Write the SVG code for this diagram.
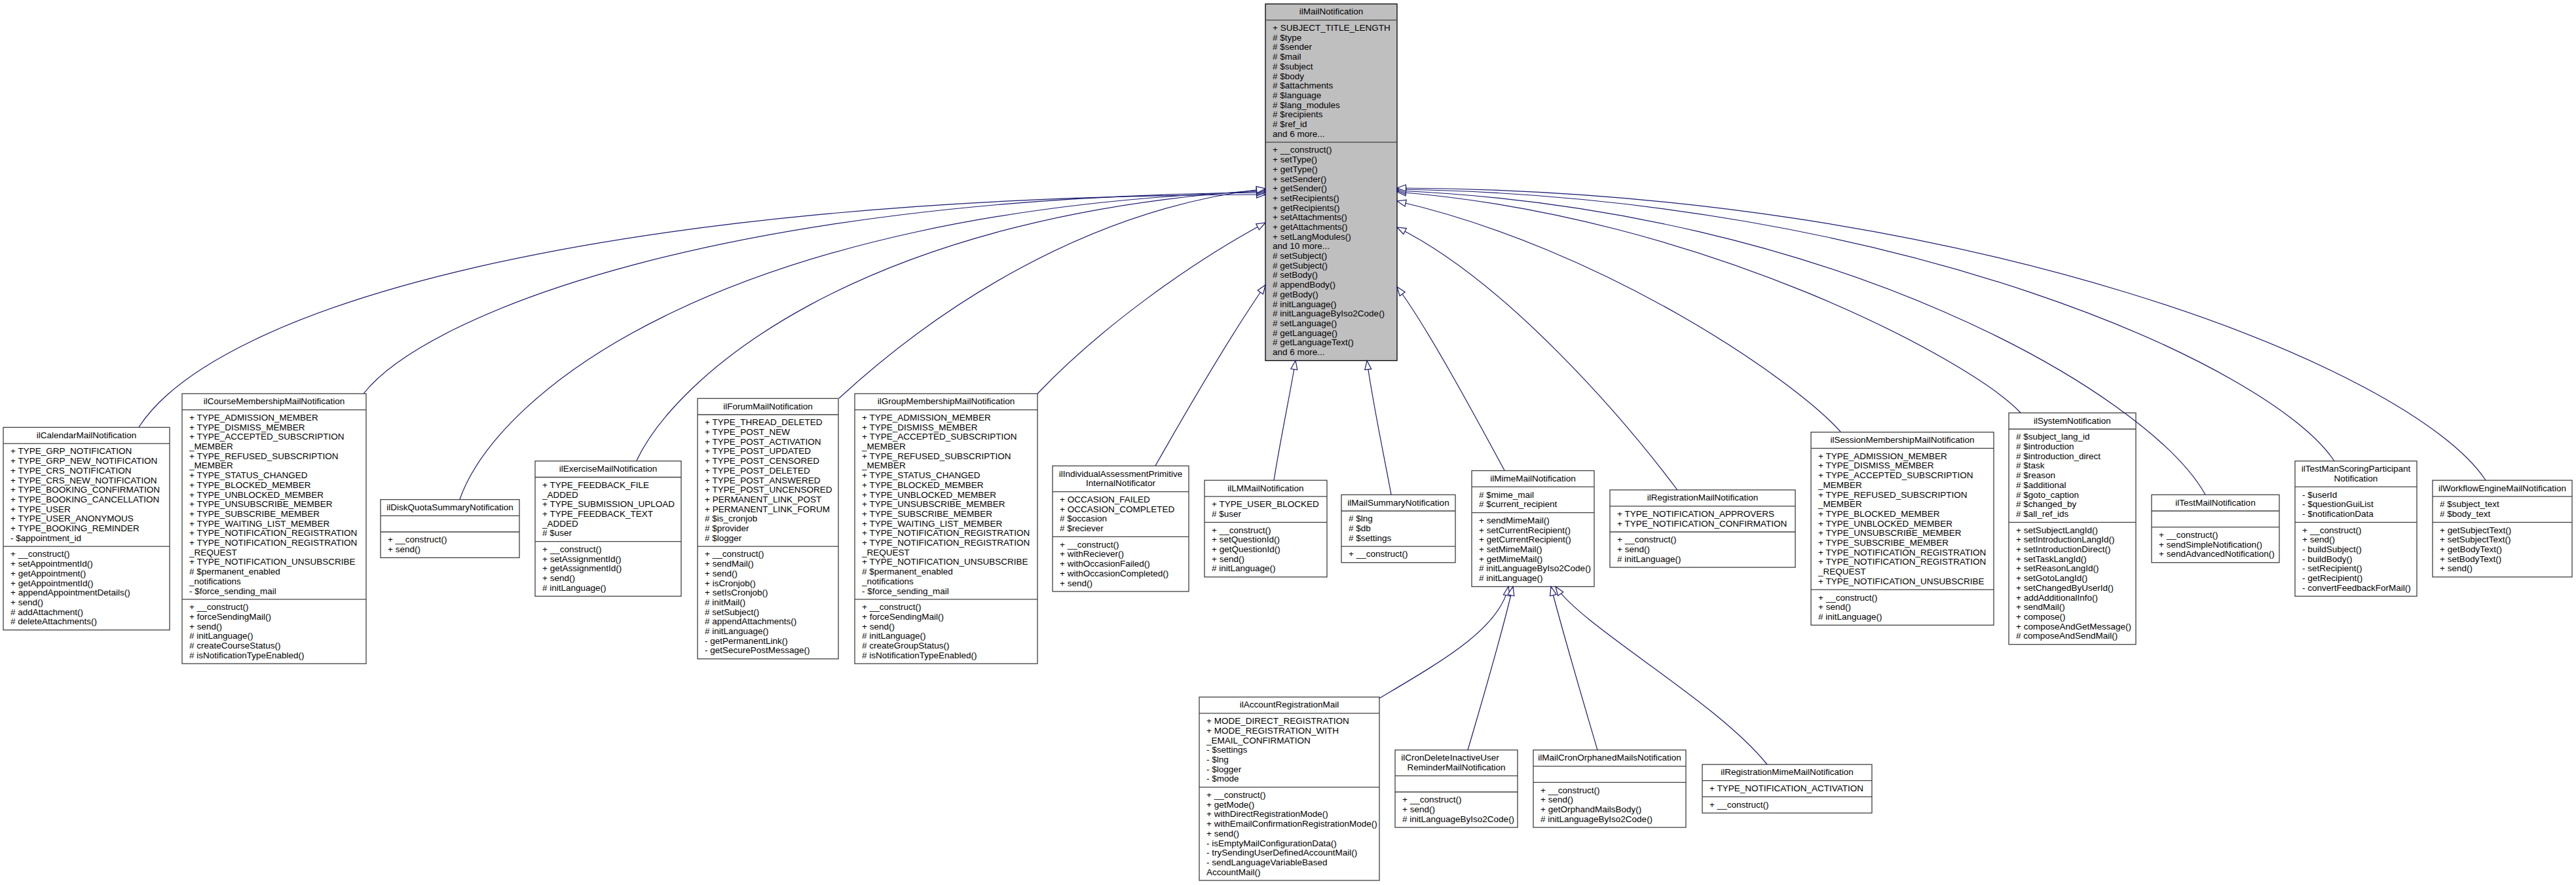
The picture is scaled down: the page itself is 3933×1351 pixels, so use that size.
<svg xmlns="http://www.w3.org/2000/svg" width="3933" height="1351" viewBox="0 0 3933 1351">
<style>
.bg{fill:#fff}
.box{fill:#fff;stroke:#404040;stroke-width:1.3}
.base{fill:#bfbfbf;stroke:#000;stroke-width:1.3}
.sep{stroke:#404040;stroke-width:1.3}
.t{font-family:"Liberation Sans",Arial,Helvetica,sans-serif;font-size:13.5px;fill:#000}
.c{text-anchor:middle}
.e{fill:none;stroke:#191970;stroke-width:1.2;marker-end:url(#arr)}
</style>
<defs>
<marker id="arr" markerUnits="userSpaceOnUse" markerWidth="16" markerHeight="14" viewBox="0 0 16 14" refX="14.5" refY="7" orient="auto">
<path d="M1,2 L14.5,7 L1,12 Z" fill="#fff" stroke="#191970" stroke-width="1.2"/>
</marker>
</defs>
<rect class="bg" x="0" y="0" width="3933" height="1351"/>

<g id="ilMailNotification">
<rect class="base" x="1932" y="6" width="201" height="544.5"/>
<line class="sep" x1="1932" y1="30.7" x2="2133" y2="30.7"/>
<line class="sep" x1="1932" y1="217.1" x2="2133" y2="217.1"/>
<text class="t c" x="2032.5" y="22.3">ilMailNotification</text>
<text class="t" x="1943" y="47"><tspan x="1943">+ SUBJECT_TITLE_LENGTH</tspan><tspan x="1943" dy="14.7"># $type</tspan><tspan x="1943" dy="14.7"># $sender</tspan><tspan x="1943" dy="14.7"># $mail</tspan><tspan x="1943" dy="14.7"># $subject</tspan><tspan x="1943" dy="14.7"># $body</tspan><tspan x="1943" dy="14.7"># $attachments</tspan><tspan x="1943" dy="14.7"># $language</tspan><tspan x="1943" dy="14.7"># $lang_modules</tspan><tspan x="1943" dy="14.7"># $recipients</tspan><tspan x="1943" dy="14.7"># $ref_id</tspan><tspan x="1943" dy="14.7">and 6 more...</tspan></text>
<text class="t" x="1943" y="233.4"><tspan x="1943">+ __construct()</tspan><tspan x="1943" dy="14.7">+ setType()</tspan><tspan x="1943" dy="14.7">+ getType()</tspan><tspan x="1943" dy="14.7">+ setSender()</tspan><tspan x="1943" dy="14.7">+ getSender()</tspan><tspan x="1943" dy="14.7">+ setRecipients()</tspan><tspan x="1943" dy="14.7">+ getRecipients()</tspan><tspan x="1943" dy="14.7">+ setAttachments()</tspan><tspan x="1943" dy="14.7">+ getAttachments()</tspan><tspan x="1943" dy="14.7">+ setLangModules()</tspan><tspan x="1943" dy="14.7">and 10 more...</tspan><tspan x="1943" dy="14.7"># setSubject()</tspan><tspan x="1943" dy="14.7"># getSubject()</tspan><tspan x="1943" dy="14.7"># setBody()</tspan><tspan x="1943" dy="14.7"># appendBody()</tspan><tspan x="1943" dy="14.7"># getBody()</tspan><tspan x="1943" dy="14.7"># initLanguage()</tspan><tspan x="1943" dy="14.7"># initLanguageByIso2Code()</tspan><tspan x="1943" dy="14.7"># setLanguage()</tspan><tspan x="1943" dy="14.7"># getLanguage()</tspan><tspan x="1943" dy="14.7"># getLanguageText()</tspan><tspan x="1943" dy="14.7">and 6 more...</tspan></text>
</g>

<g id="ilCalendarMailNotification">
<rect class="box" x="5" y="652.4" width="254" height="309.3"/>
<line class="sep" x1="5" y1="677.1" x2="259" y2="677.1"/>
<line class="sep" x1="5" y1="834.1" x2="259" y2="834.1"/>
<text class="t c" x="132" y="668.7">ilCalendarMailNotification</text>
<text class="t" x="16" y="693.4"><tspan x="16">+ TYPE_GRP_NOTIFICATION</tspan><tspan x="16" dy="14.7">+ TYPE_GRP_NEW_NOTIFICATION</tspan><tspan x="16" dy="14.7">+ TYPE_CRS_NOTIFICATION</tspan><tspan x="16" dy="14.7">+ TYPE_CRS_NEW_NOTIFICATION</tspan><tspan x="16" dy="14.7">+ TYPE_BOOKING_CONFIRMATION</tspan><tspan x="16" dy="14.7">+ TYPE_BOOKING_CANCELLATION</tspan><tspan x="16" dy="14.7">+ TYPE_USER</tspan><tspan x="16" dy="14.7">+ TYPE_USER_ANONYMOUS</tspan><tspan x="16" dy="14.7">+ TYPE_BOOKING_REMINDER</tspan><tspan x="16" dy="14.7">- $appointment_id</tspan></text>
<text class="t" x="16" y="850.4"><tspan x="16">+ __construct()</tspan><tspan x="16" dy="14.7">+ setAppointmentId()</tspan><tspan x="16" dy="14.7">+ getAppointment()</tspan><tspan x="16" dy="14.7">+ getAppointmentId()</tspan><tspan x="16" dy="14.7">+ appendAppointmentDetails()</tspan><tspan x="16" dy="14.7">+ send()</tspan><tspan x="16" dy="14.7"># addAttachment()</tspan><tspan x="16" dy="14.7"># deleteAttachments()</tspan></text>
</g>

<g id="ilCourseMembershipMailNotification">
<rect class="box" x="278" y="600.9" width="281" height="412.2"/>
<line class="sep" x1="278" y1="625.6" x2="559" y2="625.6"/>
<line class="sep" x1="278" y1="914.9" x2="559" y2="914.9"/>
<text class="t c" x="418.5" y="617.2">ilCourseMembershipMailNotification</text>
<text class="t" x="289" y="641.9"><tspan x="289">+ TYPE_ADMISSION_MEMBER</tspan><tspan x="289" dy="14.7">+ TYPE_DISMISS_MEMBER</tspan><tspan x="289" dy="14.7">+ TYPE_ACCEPTED_SUBSCRIPTION</tspan><tspan x="289" dy="14.7">_MEMBER</tspan><tspan x="289" dy="14.7">+ TYPE_REFUSED_SUBSCRIPTION</tspan><tspan x="289" dy="14.7">_MEMBER</tspan><tspan x="289" dy="14.7">+ TYPE_STATUS_CHANGED</tspan><tspan x="289" dy="14.7">+ TYPE_BLOCKED_MEMBER</tspan><tspan x="289" dy="14.7">+ TYPE_UNBLOCKED_MEMBER</tspan><tspan x="289" dy="14.7">+ TYPE_UNSUBSCRIBE_MEMBER</tspan><tspan x="289" dy="14.7">+ TYPE_SUBSCRIBE_MEMBER</tspan><tspan x="289" dy="14.7">+ TYPE_WAITING_LIST_MEMBER</tspan><tspan x="289" dy="14.7">+ TYPE_NOTIFICATION_REGISTRATION</tspan><tspan x="289" dy="14.7">+ TYPE_NOTIFICATION_REGISTRATION</tspan><tspan x="289" dy="14.7">_REQUEST</tspan><tspan x="289" dy="14.7">+ TYPE_NOTIFICATION_UNSUBSCRIBE</tspan><tspan x="289" dy="14.7"># $permanent_enabled</tspan><tspan x="289" dy="14.7">_notifications</tspan><tspan x="289" dy="14.7">- $force_sending_mail</tspan></text>
<text class="t" x="289" y="931.2"><tspan x="289">+ __construct()</tspan><tspan x="289" dy="14.7">+ forceSendingMail()</tspan><tspan x="289" dy="14.7">+ send()</tspan><tspan x="289" dy="14.7"># initLanguage()</tspan><tspan x="289" dy="14.7"># createCourseStatus()</tspan><tspan x="289" dy="14.7"># isNotificationTypeEnabled()</tspan></text>
</g>

<g id="ilDiskQuotaSummaryNotification">
<rect class="box" x="581" y="762.6" width="212" height="88.8"/>
<line class="sep" x1="581" y1="787.3" x2="793" y2="787.3"/>
<line class="sep" x1="581" y1="812" x2="793" y2="812"/>
<text class="t c" x="687" y="778.9">ilDiskQuotaSummaryNotification</text>
<text class="t" x="592" y="828.3"><tspan x="592">+ __construct()</tspan><tspan x="592" dy="14.7">+ send()</tspan></text>
</g>

<g id="ilExerciseMailNotification">
<rect class="box" x="817" y="703.8" width="223" height="206.4"/>
<line class="sep" x1="817" y1="728.5" x2="1040" y2="728.5"/>
<line class="sep" x1="817" y1="826.7" x2="1040" y2="826.7"/>
<text class="t c" x="928.5" y="720.1">ilExerciseMailNotification</text>
<text class="t" x="828" y="744.8"><tspan x="828">+ TYPE_FEEDBACK_FILE</tspan><tspan x="828" dy="14.7">_ADDED</tspan><tspan x="828" dy="14.7">+ TYPE_SUBMISSION_UPLOAD</tspan><tspan x="828" dy="14.7">+ TYPE_FEEDBACK_TEXT</tspan><tspan x="828" dy="14.7">_ADDED</tspan><tspan x="828" dy="14.7"># $user</tspan></text>
<text class="t" x="828" y="843"><tspan x="828">+ __construct()</tspan><tspan x="828" dy="14.7">+ setAssignmentId()</tspan><tspan x="828" dy="14.7">+ getAssignmentId()</tspan><tspan x="828" dy="14.7">+ send()</tspan><tspan x="828" dy="14.7"># initLanguage()</tspan></text>
</g>

<g id="ilForumMailNotification">
<rect class="box" x="1065" y="608.3" width="215" height="397.5"/>
<line class="sep" x1="1065" y1="633" x2="1280" y2="633"/>
<line class="sep" x1="1065" y1="834.1" x2="1280" y2="834.1"/>
<text class="t c" x="1172.5" y="624.6">ilForumMailNotification</text>
<text class="t" x="1076" y="649.3"><tspan x="1076">+ TYPE_THREAD_DELETED</tspan><tspan x="1076" dy="14.7">+ TYPE_POST_NEW</tspan><tspan x="1076" dy="14.7">+ TYPE_POST_ACTIVATION</tspan><tspan x="1076" dy="14.7">+ TYPE_POST_UPDATED</tspan><tspan x="1076" dy="14.7">+ TYPE_POST_CENSORED</tspan><tspan x="1076" dy="14.7">+ TYPE_POST_DELETED</tspan><tspan x="1076" dy="14.7">+ TYPE_POST_ANSWERED</tspan><tspan x="1076" dy="14.7">+ TYPE_POST_UNCENSORED</tspan><tspan x="1076" dy="14.7">+ PERMANENT_LINK_POST</tspan><tspan x="1076" dy="14.7">+ PERMANENT_LINK_FORUM</tspan><tspan x="1076" dy="14.7"># $is_cronjob</tspan><tspan x="1076" dy="14.7"># $provider</tspan><tspan x="1076" dy="14.7"># $logger</tspan></text>
<text class="t" x="1076" y="850.4"><tspan x="1076">+ __construct()</tspan><tspan x="1076" dy="14.7">+ sendMail()</tspan><tspan x="1076" dy="14.7">+ send()</tspan><tspan x="1076" dy="14.7">+ isCronjob()</tspan><tspan x="1076" dy="14.7">+ setIsCronjob()</tspan><tspan x="1076" dy="14.7"># initMail()</tspan><tspan x="1076" dy="14.7"># setSubject()</tspan><tspan x="1076" dy="14.7"># appendAttachments()</tspan><tspan x="1076" dy="14.7"># initLanguage()</tspan><tspan x="1076" dy="14.7">- getPermanentLink()</tspan><tspan x="1076" dy="14.7">- getSecurePostMessage()</tspan></text>
</g>

<g id="ilGroupMembershipMailNotification">
<rect class="box" x="1305" y="600.9" width="279" height="412.2"/>
<line class="sep" x1="1305" y1="625.6" x2="1584" y2="625.6"/>
<line class="sep" x1="1305" y1="914.9" x2="1584" y2="914.9"/>
<text class="t c" x="1444.5" y="617.2">ilGroupMembershipMailNotification</text>
<text class="t" x="1316" y="641.9"><tspan x="1316">+ TYPE_ADMISSION_MEMBER</tspan><tspan x="1316" dy="14.7">+ TYPE_DISMISS_MEMBER</tspan><tspan x="1316" dy="14.7">+ TYPE_ACCEPTED_SUBSCRIPTION</tspan><tspan x="1316" dy="14.7">_MEMBER</tspan><tspan x="1316" dy="14.7">+ TYPE_REFUSED_SUBSCRIPTION</tspan><tspan x="1316" dy="14.7">_MEMBER</tspan><tspan x="1316" dy="14.7">+ TYPE_STATUS_CHANGED</tspan><tspan x="1316" dy="14.7">+ TYPE_BLOCKED_MEMBER</tspan><tspan x="1316" dy="14.7">+ TYPE_UNBLOCKED_MEMBER</tspan><tspan x="1316" dy="14.7">+ TYPE_UNSUBSCRIBE_MEMBER</tspan><tspan x="1316" dy="14.7">+ TYPE_SUBSCRIBE_MEMBER</tspan><tspan x="1316" dy="14.7">+ TYPE_WAITING_LIST_MEMBER</tspan><tspan x="1316" dy="14.7">+ TYPE_NOTIFICATION_REGISTRATION</tspan><tspan x="1316" dy="14.7">+ TYPE_NOTIFICATION_REGISTRATION</tspan><tspan x="1316" dy="14.7">_REQUEST</tspan><tspan x="1316" dy="14.7">+ TYPE_NOTIFICATION_UNSUBSCRIBE</tspan><tspan x="1316" dy="14.7"># $permanent_enabled</tspan><tspan x="1316" dy="14.7">_notifications</tspan><tspan x="1316" dy="14.7">- $force_sending_mail</tspan></text>
<text class="t" x="1316" y="931.2"><tspan x="1316">+ __construct()</tspan><tspan x="1316" dy="14.7">+ forceSendingMail()</tspan><tspan x="1316" dy="14.7">+ send()</tspan><tspan x="1316" dy="14.7"># initLanguage()</tspan><tspan x="1316" dy="14.7"># createGroupStatus()</tspan><tspan x="1316" dy="14.7"># isNotificationTypeEnabled()</tspan></text>
</g>

<g id="ilIndividualAssessmentPrimitiveInternalNotificator">
<rect class="box" x="1607" y="711.2" width="208" height="191.7"/>
<line class="sep" x1="1607" y1="750.6" x2="1815" y2="750.6"/>
<line class="sep" x1="1607" y1="819.4" x2="1815" y2="819.4"/>
<text class="t c" x="1711" y="727.5"><tspan x="1711">ilIndividualAssessmentPrimitive</tspan><tspan x="1711" dy="14.7">InternalNotificator</tspan></text>
<text class="t" x="1618" y="766.9"><tspan x="1618">+ OCCASION_FAILED</tspan><tspan x="1618" dy="14.7">+ OCCASION_COMPLETED</tspan><tspan x="1618" dy="14.7"># $occasion</tspan><tspan x="1618" dy="14.7"># $reciever</tspan></text>
<text class="t" x="1618" y="835.7"><tspan x="1618">+ __construct()</tspan><tspan x="1618" dy="14.7">+ withReciever()</tspan><tspan x="1618" dy="14.7">+ withOccasionFailed()</tspan><tspan x="1618" dy="14.7">+ withOccasionCompleted()</tspan><tspan x="1618" dy="14.7">+ send()</tspan></text>
</g>

<g id="ilLMMailNotification">
<rect class="box" x="1839" y="733.2" width="187" height="147.6"/>
<line class="sep" x1="1839" y1="757.9" x2="2026" y2="757.9"/>
<line class="sep" x1="1839" y1="797.3" x2="2026" y2="797.3"/>
<text class="t c" x="1932.5" y="749.5">ilLMMailNotification</text>
<text class="t" x="1850" y="774.2"><tspan x="1850">+ TYPE_USER_BLOCKED</tspan><tspan x="1850" dy="14.7"># $user</tspan></text>
<text class="t" x="1850" y="813.6"><tspan x="1850">+ __construct()</tspan><tspan x="1850" dy="14.7">+ setQuestionId()</tspan><tspan x="1850" dy="14.7">+ getQuestionId()</tspan><tspan x="1850" dy="14.7">+ send()</tspan><tspan x="1850" dy="14.7"># initLanguage()</tspan></text>
</g>

<g id="ilMailSummaryNotification">
<rect class="box" x="2048" y="755.3" width="174" height="103.5"/>
<line class="sep" x1="2048" y1="780" x2="2222" y2="780"/>
<line class="sep" x1="2048" y1="834.1" x2="2222" y2="834.1"/>
<text class="t c" x="2135" y="771.6">ilMailSummaryNotification</text>
<text class="t" x="2059" y="796.3"><tspan x="2059"># $lng</tspan><tspan x="2059" dy="14.7"># $db</tspan><tspan x="2059" dy="14.7"># $settings</tspan></text>
<text class="t" x="2059" y="850.4">+ __construct()</text>
</g>

<g id="ilMimeMailNotification">
<rect class="box" x="2247" y="718.5" width="187" height="177"/>
<line class="sep" x1="2247" y1="743.2" x2="2434" y2="743.2"/>
<line class="sep" x1="2247" y1="782.6" x2="2434" y2="782.6"/>
<text class="t c" x="2340.5" y="734.8">ilMimeMailNotification</text>
<text class="t" x="2258" y="759.5"><tspan x="2258"># $mime_mail</tspan><tspan x="2258" dy="14.7"># $current_recipient</tspan></text>
<text class="t" x="2258" y="798.9"><tspan x="2258">+ sendMimeMail()</tspan><tspan x="2258" dy="14.7">+ setCurrentRecipient()</tspan><tspan x="2258" dy="14.7">+ getCurrentRecipient()</tspan><tspan x="2258" dy="14.7">+ setMimeMail()</tspan><tspan x="2258" dy="14.7">+ getMimeMail()</tspan><tspan x="2258" dy="14.7"># initLanguageByIso2Code()</tspan><tspan x="2258" dy="14.7"># initLanguage()</tspan></text>
</g>

<g id="ilRegistrationMailNotification">
<rect class="box" x="2458" y="747.9" width="283" height="118.2"/>
<line class="sep" x1="2458" y1="772.6" x2="2741" y2="772.6"/>
<line class="sep" x1="2458" y1="812" x2="2741" y2="812"/>
<text class="t c" x="2599.5" y="764.2">ilRegistrationMailNotification</text>
<text class="t" x="2469" y="788.9"><tspan x="2469">+ TYPE_NOTIFICATION_APPROVERS</tspan><tspan x="2469" dy="14.7">+ TYPE_NOTIFICATION_CONFIRMATION</tspan></text>
<text class="t" x="2469" y="828.3"><tspan x="2469">+ __construct()</tspan><tspan x="2469" dy="14.7">+ send()</tspan><tspan x="2469" dy="14.7"># initLanguage()</tspan></text>
</g>

<g id="ilSessionMembershipMailNotification">
<rect class="box" x="2765" y="659.7" width="279" height="294.6"/>
<line class="sep" x1="2765" y1="684.4" x2="3044" y2="684.4"/>
<line class="sep" x1="2765" y1="900.2" x2="3044" y2="900.2"/>
<text class="t c" x="2904.5" y="676">ilSessionMembershipMailNotification</text>
<text class="t" x="2776" y="700.7"><tspan x="2776">+ TYPE_ADMISSION_MEMBER</tspan><tspan x="2776" dy="14.7">+ TYPE_DISMISS_MEMBER</tspan><tspan x="2776" dy="14.7">+ TYPE_ACCEPTED_SUBSCRIPTION</tspan><tspan x="2776" dy="14.7">_MEMBER</tspan><tspan x="2776" dy="14.7">+ TYPE_REFUSED_SUBSCRIPTION</tspan><tspan x="2776" dy="14.7">_MEMBER</tspan><tspan x="2776" dy="14.7">+ TYPE_BLOCKED_MEMBER</tspan><tspan x="2776" dy="14.7">+ TYPE_UNBLOCKED_MEMBER</tspan><tspan x="2776" dy="14.7">+ TYPE_UNSUBSCRIBE_MEMBER</tspan><tspan x="2776" dy="14.7">+ TYPE_SUBSCRIBE_MEMBER</tspan><tspan x="2776" dy="14.7">+ TYPE_NOTIFICATION_REGISTRATION</tspan><tspan x="2776" dy="14.7">+ TYPE_NOTIFICATION_REGISTRATION</tspan><tspan x="2776" dy="14.7">_REQUEST</tspan><tspan x="2776" dy="14.7">+ TYPE_NOTIFICATION_UNSUBSCRIBE</tspan></text>
<text class="t" x="2776" y="916.5"><tspan x="2776">+ __construct()</tspan><tspan x="2776" dy="14.7">+ send()</tspan><tspan x="2776" dy="14.7"># initLanguage()</tspan></text>
</g>

<g id="ilSystemNotification">
<rect class="box" x="3067" y="630.3" width="194" height="353.4"/>
<line class="sep" x1="3067" y1="655" x2="3261" y2="655"/>
<line class="sep" x1="3067" y1="797.3" x2="3261" y2="797.3"/>
<text class="t c" x="3164" y="646.6">ilSystemNotification</text>
<text class="t" x="3078" y="671.3"><tspan x="3078"># $subject_lang_id</tspan><tspan x="3078" dy="14.7"># $introduction</tspan><tspan x="3078" dy="14.7"># $introduction_direct</tspan><tspan x="3078" dy="14.7"># $task</tspan><tspan x="3078" dy="14.7"># $reason</tspan><tspan x="3078" dy="14.7"># $additional</tspan><tspan x="3078" dy="14.7"># $goto_caption</tspan><tspan x="3078" dy="14.7"># $changed_by</tspan><tspan x="3078" dy="14.7"># $all_ref_ids</tspan></text>
<text class="t" x="3078" y="813.6"><tspan x="3078">+ setSubjectLangId()</tspan><tspan x="3078" dy="14.7">+ setIntroductionLangId()</tspan><tspan x="3078" dy="14.7">+ setIntroductionDirect()</tspan><tspan x="3078" dy="14.7">+ setTaskLangId()</tspan><tspan x="3078" dy="14.7">+ setReasonLangId()</tspan><tspan x="3078" dy="14.7">+ setGotoLangId()</tspan><tspan x="3078" dy="14.7">+ setChangedByUserId()</tspan><tspan x="3078" dy="14.7">+ addAdditionalInfo()</tspan><tspan x="3078" dy="14.7">+ sendMail()</tspan><tspan x="3078" dy="14.7">+ compose()</tspan><tspan x="3078" dy="14.7">+ composeAndGetMessage()</tspan><tspan x="3078" dy="14.7"># composeAndSendMail()</tspan></text>
</g>

<g id="ilTestMailNotification">
<rect class="box" x="3285" y="755.3" width="195" height="103.5"/>
<line class="sep" x1="3285" y1="780" x2="3480" y2="780"/>
<line class="sep" x1="3285" y1="804.7" x2="3480" y2="804.7"/>
<text class="t c" x="3382.5" y="771.6">ilTestMailNotification</text>
<text class="t" x="3296" y="821"><tspan x="3296">+ __construct()</tspan><tspan x="3296" dy="14.7">+ sendSimpleNotification()</tspan><tspan x="3296" dy="14.7">+ sendAdvancedNotification()</tspan></text>
</g>

<g id="ilTestManScoringParticipantNotification">
<rect class="box" x="3504" y="703.8" width="186" height="206.4"/>
<line class="sep" x1="3504" y1="743.2" x2="3690" y2="743.2"/>
<line class="sep" x1="3504" y1="797.3" x2="3690" y2="797.3"/>
<text class="t c" x="3597" y="720.1"><tspan x="3597">ilTestManScoringParticipant</tspan><tspan x="3597" dy="14.7">Notification</tspan></text>
<text class="t" x="3515" y="759.5"><tspan x="3515">- $userId</tspan><tspan x="3515" dy="14.7">- $questionGuiList</tspan><tspan x="3515" dy="14.7">- $notificationData</tspan></text>
<text class="t" x="3515" y="813.6"><tspan x="3515">+ __construct()</tspan><tspan x="3515" dy="14.7">+ send()</tspan><tspan x="3515" dy="14.7">- buildSubject()</tspan><tspan x="3515" dy="14.7">- buildBody()</tspan><tspan x="3515" dy="14.7">- setRecipient()</tspan><tspan x="3515" dy="14.7">- getRecipient()</tspan><tspan x="3515" dy="14.7">- convertFeedbackForMail()</tspan></text>
</g>

<g id="ilWorkflowEngineMailNotification">
<rect class="box" x="3714" y="733.2" width="213" height="147.6"/>
<line class="sep" x1="3714" y1="757.9" x2="3927" y2="757.9"/>
<line class="sep" x1="3714" y1="797.3" x2="3927" y2="797.3"/>
<text class="t c" x="3820.5" y="749.5">ilWorkflowEngineMailNotification</text>
<text class="t" x="3725" y="774.2"><tspan x="3725"># $subject_text</tspan><tspan x="3725" dy="14.7"># $body_text</tspan></text>
<text class="t" x="3725" y="813.6"><tspan x="3725">+ getSubjectText()</tspan><tspan x="3725" dy="14.7">+ setSubjectText()</tspan><tspan x="3725" dy="14.7">+ getBodyText()</tspan><tspan x="3725" dy="14.7">+ setBodyText()</tspan><tspan x="3725" dy="14.7">+ send()</tspan></text>
</g>

<g id="ilAccountRegistrationMail">
<rect class="box" x="1831" y="1064.1" width="275" height="279.9"/>
<line class="sep" x1="1831" y1="1088.8" x2="2106" y2="1088.8"/>
<line class="sep" x1="1831" y1="1201.7" x2="2106" y2="1201.7"/>
<text class="t c" x="1968.5" y="1080.4">ilAccountRegistrationMail</text>
<text class="t" x="1842" y="1105.1"><tspan x="1842">+ MODE_DIRECT_REGISTRATION</tspan><tspan x="1842" dy="14.7">+ MODE_REGISTRATION_WITH</tspan><tspan x="1842" dy="14.7">_EMAIL_CONFIRMATION</tspan><tspan x="1842" dy="14.7">- $settings</tspan><tspan x="1842" dy="14.7">- $lng</tspan><tspan x="1842" dy="14.7">- $logger</tspan><tspan x="1842" dy="14.7">- $mode</tspan></text>
<text class="t" x="1842" y="1218"><tspan x="1842">+ __construct()</tspan><tspan x="1842" dy="14.7">+ getMode()</tspan><tspan x="1842" dy="14.7">+ withDirectRegistrationMode()</tspan><tspan x="1842" dy="14.7">+ withEmailConfirmationRegistrationMode()</tspan><tspan x="1842" dy="14.7">+ send()</tspan><tspan x="1842" dy="14.7">- isEmptyMailConfigurationData()</tspan><tspan x="1842" dy="14.7">- trySendingUserDefinedAccountMail()</tspan><tspan x="1842" dy="14.7">- sendLanguageVariableBased</tspan><tspan x="1842" dy="14.7">AccountMail()</tspan></text>
</g>

<g id="ilCronDeleteInactiveUserReminderMailNotification">
<rect class="box" x="2130" y="1144.9" width="187" height="118.2"/>
<line class="sep" x1="2130" y1="1184.3" x2="2317" y2="1184.3"/>
<line class="sep" x1="2130" y1="1209" x2="2317" y2="1209"/>
<text class="t c" x="2223.5" y="1161.2"><tspan x="2214">ilCronDeleteInactiveUser</tspan><tspan x="2223.5" dy="14.7">ReminderMailNotification</tspan></text>
<text class="t" x="2141" y="1225.3"><tspan x="2141">+ __construct()</tspan><tspan x="2141" dy="14.7">+ send()</tspan><tspan x="2141" dy="14.7"># initLanguageByIso2Code()</tspan></text>
</g>

<g id="ilMailCronOrphanedMailsNotification">
<rect class="box" x="2341" y="1144.9" width="233" height="118.2"/>
<line class="sep" x1="2341" y1="1169.6" x2="2574" y2="1169.6"/>
<line class="sep" x1="2341" y1="1194.3" x2="2574" y2="1194.3"/>
<text class="t c" x="2457.5" y="1161.2">ilMailCronOrphanedMailsNotification</text>
<text class="t" x="2352" y="1210.6"><tspan x="2352">+ __construct()</tspan><tspan x="2352" dy="14.7">+ send()</tspan><tspan x="2352" dy="14.7">+ getOrphandMailsBody()</tspan><tspan x="2352" dy="14.7"># initLanguageByIso2Code()</tspan></text>
</g>

<g id="ilRegistrationMimeMailNotification">
<rect class="box" x="2599" y="1167" width="259" height="74.1"/>
<line class="sep" x1="2599" y1="1191.7" x2="2858" y2="1191.7"/>
<line class="sep" x1="2599" y1="1216.4" x2="2858" y2="1216.4"/>
<text class="t c" x="2728.5" y="1183.3">ilRegistrationMimeMailNotification</text>
<text class="t" x="2610" y="1208">+ TYPE_NOTIFICATION_ACTIVATION</text>
<text class="t" x="2610" y="1232.7">+ __construct()</text>
</g>

<g id="connectors">
<path class="e" d="M212,652 C330,470 900,300 1932,297"/>
<path class="e" d="M555,601 C650,480 1100,300 1932,294"/>
<path class="e" d="M702,762 C760,600 1100,320 1932,292"/>
<path class="e" d="M972,703 C1030,580 1300,330 1932,290"/>
<path class="e" d="M1281,608 C1420,480 1650,320 1932,288"/>
<path class="e" d="M1584,601 C1680,500 1820,400 1932,340"/>
<path class="e" d="M1764,711 C1810,630 1880,510 1932,435"/>
<path class="e" d="M1945,733 C1955,670 1970,600 1978,550.5"/>
<path class="e" d="M2124,755 C2112,690 2095,610 2087,550.5"/>
<path class="e" d="M2297,718 C2260,650 2180,500 2133,438"/>
<path class="e" d="M2561,748 C2480,640 2300,430 2133,347"/>
<path class="e" d="M2810,659 C2740,580 2450,380 2133,307"/>
<path class="e" d="M3085,630 C3010,550 2600,330 2133,293"/>
<path class="e" d="M3367,755 C3280,600 2800,320 2133,291"/>
<path class="e" d="M3564,704 C3470,560 2900,300 2133,289"/>
<path class="e" d="M3795,733 C3680,560 3000,290 2133,287"/>
<path class="e" d="M2106,1066 C2200,1010 2290,960 2303,895.5"/>
<path class="e" d="M2241,1145 C2260,1080 2290,980 2310,895.5"/>
<path class="e" d="M2439,1145 C2420,1080 2390,980 2368,895.5"/>
<path class="e" d="M2698,1167 C2620,1070 2420,960 2375,895.5"/>
</g>
</svg>
